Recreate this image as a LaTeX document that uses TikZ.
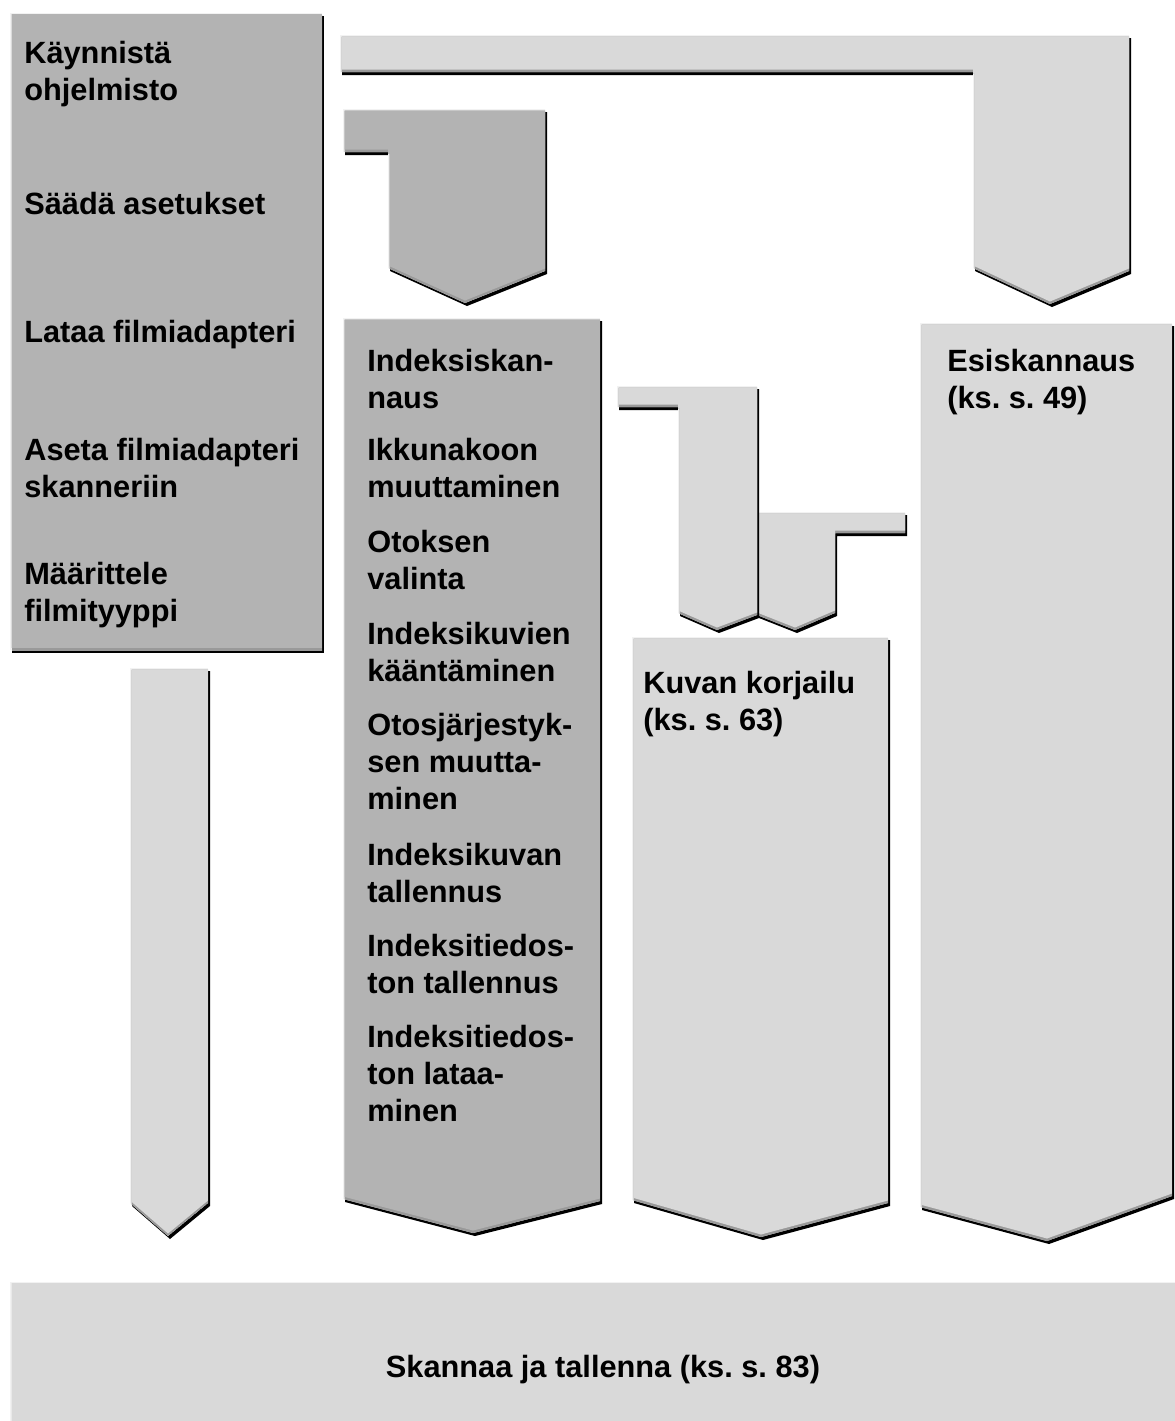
\documentclass[tikz,border=0pt]{standalone}
\usepackage{fontspec}
\setmainfont{Liberation Sans}
\usepackage{tikz}
\frenchspacing

\definecolor{darkfill}{HTML}{B3B3B3}
\definecolor{lightfill}{HTML}{D9D9D9}
\definecolor{hilite}{HTML}{F2F2F2}
\definecolor{bevelgray}{HTML}{999999}

% block with black drop edge, light top edge and grey bevel
\newcommand{\bevelblock}[2]{%
  \fill[black, shift={(2,3)}] #2;
  \begin{scope}
    \clip #2;
    \fill[hilite] #2;
    \fill[bevelgray, shift={(1.5,1.5)}] #2;
    \clip[shift={(1.5,1.5)}] #2;
    \fill[#1, shift={(0,-2.5)}] #2;
  \end{scope}}

\begin{document}
\begin{tikzpicture}[x=0.02cm, y=-0.02cm,
    lbl/.style={anchor=north west, inner sep=0pt, align=left,
                font=\fontsize{17.5}{21}\selectfont\bfseries},
    bar/.style={anchor=base, inner sep=0pt,
                font=\fontsize{17.5}{21}\selectfont\bfseries}
]
\useasboundingbox (0,0) rectangle (1175,1421);

% preparation steps
\bevelblock{darkfill}{(10,13) rectangle (322,650)}
\node[lbl] (start)  at (24,41)  {Käynnistä\\ohjelmisto};
\node[lbl] (setup)  at (24,192) {Säädä asetukset};
\node[lbl] (load)   at (24,320) {Lataa filmiadapteri};
\node[lbl] (insert) at (24,438) {Aseta filmiadapteri\\skanneriin};
\node[lbl] (type)   at (24,562) {Määrittele\\filmityyppi};

% block arrows
\bevelblock{lightfill}{(340,35) -- (1129,35) -- (1129,271) -- (1050,304) -- (973,268) -- (973,72) -- (340,72) -- cycle}
\bevelblock{darkfill}{(343,109) -- (545,109) -- (545,271) -- (465,303) -- (388,268) -- (388,152) -- (343,152) -- cycle}
\bevelblock{lightfill}{(757,512) -- (905,512) -- (905,533) -- (835,533) -- (835,613) -- (795,630) -- (757,615) -- cycle}
\bevelblock{lightfill}{(617,386) -- (757,386) -- (757,615) -- (717,630) -- (678,613) -- (678,407) -- (617,407) -- cycle}
\bevelblock{lightfill}{(130,668) -- (208,668) -- (208,1203) -- (168,1236) -- (130,1203) -- cycle}

% index column
\bevelblock{darkfill}{(343,318) -- (600,318) -- (600,1201) -- (473,1233) -- (343,1199) -- cycle}
\node[lbl] (idxscan) at (367,349)  {Indeksiskan-\\naus};
\node[lbl] (window)  at (367,438)  {Ikkunakoon\\muuttaminen};
\node[lbl] (select)  at (367,530)  {Otoksen\\valinta};
\node[lbl] (rotate)  at (367,622)  {Indeksikuvien\\kääntäminen};
\node[lbl] (order)   at (367,713)  {Otosjärjestyk-\\sen muutta-\\minen};
\node[lbl] (saveimg) at (367,843)  {Indeksikuvan\\tallennus};
\node[lbl] (savefil) at (367,934)  {Indeksitiedos-\\ton tallennus};
\node[lbl] (loadfil) at (367,1025) {Indeksitiedos-\\ton lataa-\\minen};

% image correction and preview
\bevelblock{lightfill}{(632,637) -- (888,637) -- (888,1203) -- (761,1237) -- (632,1200) -- cycle}
\node[lbl] (correct) at (643,671) {Kuvan korjailu\\(ks. s. 63)};

\bevelblock{lightfill}{(920,323) -- (1172,323) -- (1172,1196) -- (1047,1241) -- (920,1207) -- cycle}
\node[lbl] (preview) at (947,349) {Esiskannaus\\(ks. s. 49)};

% final step
\bevelblock{lightfill}{(10,1282) rectangle (1178,1425)}
\node[bar] (scan) at (603,1377) {Skannaa ja tallenna (ks. s. 83)};

\end{tikzpicture}
\end{document}
